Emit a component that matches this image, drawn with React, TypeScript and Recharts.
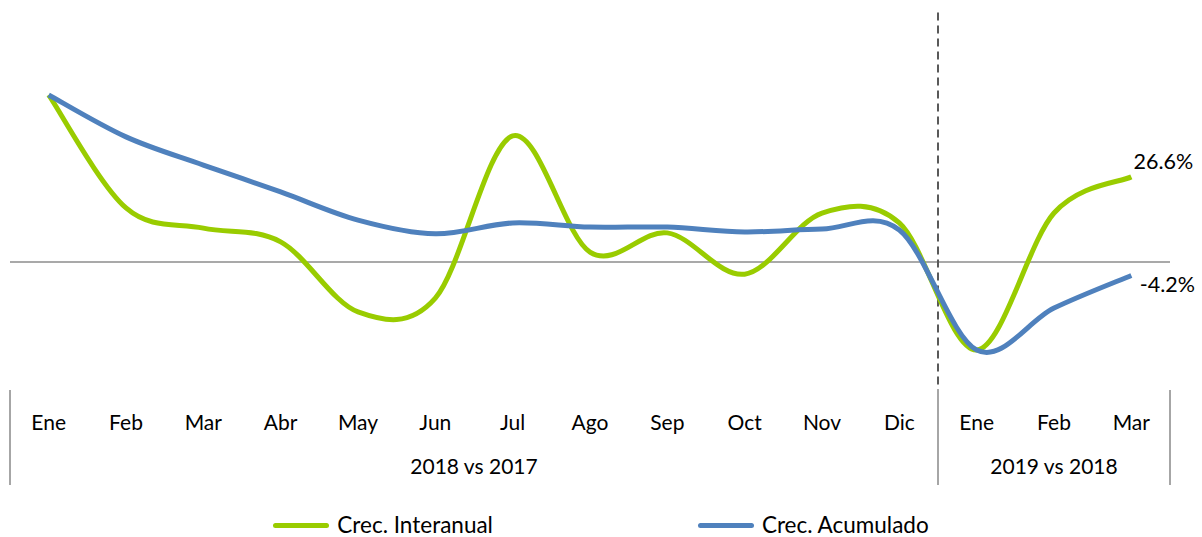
import {
  LineChart,
  Line,
  XAxis,
  YAxis,
  ReferenceLine,
  Legend,
  LabelList,
} from "recharts";

// Meses (2018 vs 2017 y 2019 vs 2018)
const MONTHS = ["Ene", "Feb", "Mar", "Abr", "May", "Jun", "Jul", "Ago", "Sep", "Oct", "Nov", "Dic", "Ene", "Feb", "Mar"];

// Crecimiento interanual (%)
const INTERANUAL = [52.2, 16.9, 10.6, 6.3, -15.6, -11.3, 39.4, 3.1, 9.1, -3.8, 15.3, 12.2, -27.5, 15.3, 26.6];

// Crecimiento acumulado (%)
const ACUMULADO = [52.2, 39.1, 30.3, 21.9, 13.1, 8.8, 12.2, 10.9, 10.9, 9.4, 10.3, 10.0, -27.5, -14.4, -4.2];

// Grupos del eje X
const GROUP_LABELS = ["2018 vs 2017", "2019 vs 2018"];
const GROUP_CENTERS = [5.5, 13];
const GROUP_EDGES = [-0.5, 11.5, 14.5];

const GREEN = "#99CC00";
const BLUE = "#4F81BD";
const FONT = "Lato, sans-serif";

const data = MONTHS.map((m, i) => ({ i, m, g: INTERANUAL[i], b: ACUMULADO[i] }));

const TICKS = [...GROUP_EDGES, ...MONTHS.map((_, i) => i), 5.5].sort((a, b) => a - b);

// suavizado tipo Excel (Catmull-Rom como Bezier)
const excelCurve = (context: any) => {
  let pts: number[][] = [];
  return {
    areaStart() {},
    areaEnd() {},
    lineStart() {
      pts = [];
    },
    point(x: number, y: number) {
      pts.push([+x, +y]);
    },
    lineEnd() {
      const n = pts.length;
      if (!n) return;
      context.moveTo(pts[0][0], pts[0][1]);
      for (let k = 0; k < n - 1; k++) {
        const p0 = pts[k - 1] || pts[k];
        const p1 = pts[k];
        const p2 = pts[k + 1];
        const p3 = pts[k + 2] || p2;
        context.bezierCurveTo(
          p1[0] + (p2[0] - p0[0]) / 6,
          p1[1] + (p2[1] - p0[1]) / 6,
          p2[0] - (p3[0] - p1[0]) / 6,
          p2[1] - (p3[1] - p1[1]) / 6,
          p2[0],
          p2[1]
        );
      }
    },
  };
};

const AxisTick = (props: any) => {
  const { x, y, payload } = props;
  const v = payload.value;
  const out: any[] = [];
  if (GROUP_EDGES.includes(v)) {
    out.push(<line key="l" x1={x} x2={x} y1={y} y2={y + 95} stroke="#a6a6a6" strokeWidth={2} />);
  }
  if (Number.isInteger(v)) {
    out.push(
      <text key="m" x={x} y={y + 40} textAnchor="middle" fontSize={21} fontFamily={FONT} fill="#000">
        {MONTHS[v]}
      </text>
    );
  }
  const gi = GROUP_CENTERS.indexOf(v);
  if (gi >= 0) {
    out.push(
      <text key="g" x={x} y={y + 84} textAnchor="middle" fontSize={21} fontFamily={FONT} fill="#000">
        {GROUP_LABELS[gi]}
      </text>
    );
  }
  return <g>{out}</g>;
};

const endLabel = (dx: number, dy: number) => (props: any) => {
  const { x, y, value, index } = props;
  if (index !== MONTHS.length - 1) return null;
  return (
    <text x={x + dx} y={y + dy} textAnchor="middle" fontSize={21.5} fontFamily={FONT} fill="#000">
      {`${Number(value).toFixed(1)}%`}
    </text>
  );
};

const LegendContent = () => (
  <div
    style={{
      height: 52,
      boxSizing: "border-box",
      paddingTop: 28,
      paddingLeft: 22,
      display: "flex",
      justifyContent: "center",
      gap: 205,
      fontFamily: FONT,
      fontSize: 22.5,
      color: "#000",
    }}
  >
    {[
      ["Crec. Interanual", GREEN],
      ["Crec. Acumulado", BLUE],
    ].map(([name, c]) => (
      <div key={name} style={{ display: "flex", alignItems: "center", lineHeight: "22px" }}>
        <span style={{ display: "inline-block", width: 56, height: 5, borderRadius: 3, background: c, marginRight: 8 }} />
        {name}
      </div>
    ))}
  </div>
);

export default function App() {
  return (
    <div style={{ position: "absolute", left: 0, top: 0, background: "#fff" }}>
      <LineChart width={1202} height={537} data={data} margin={{ top: 70, right: 32, left: 10, bottom: 0 }}>
        <XAxis
          dataKey="i"
          type="number"
          domain={[-0.5, 14.5]}
          ticks={TICKS}
          interval={0}
          tick={<AxisTick />}
          tickLine={false}
          axisLine={false}
          tickSize={0}
          tickMargin={0}
          height={95}
        />
        <YAxis hide domain={[-40, 60]} />
        <ReferenceLine y={0} stroke="#8c8c8c" strokeWidth={1.5} />
        <ReferenceLine
          segment={[
            { x: 11.5, y: 78 },
            { x: 11.5, y: -54 },
          ]}
          ifOverflow="visible"
          stroke="#595959"
          strokeWidth={2}
          strokeDasharray="8 5"
        />
        <Line
          dataKey="g"
          name="Crec. Interanual"
          type={excelCurve as any}
          stroke={GREEN}
          strokeWidth={5}
          dot={false}
          isAnimationActive={false}
        >
          <LabelList dataKey="g" content={endLabel(32, -8)} />
        </Line>
        <Line
          dataKey="b"
          name="Crec. Acumulado"
          type={excelCurve as any}
          stroke={BLUE}
          strokeWidth={5}
          dot={false}
          isAnimationActive={false}
        >
          <LabelList dataKey="b" content={endLabel(36, 17)} />
        </Line>
        <Legend verticalAlign="bottom" content={<LegendContent />} />
      </LineChart>
    </div>
  );
}
